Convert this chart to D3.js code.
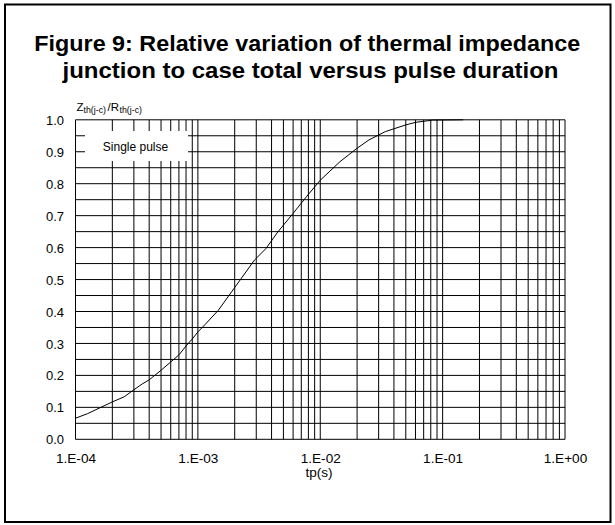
<!DOCTYPE html>
<html>
<head>
<meta charset="utf-8">
<script src="https://cdn.jsdelivr.net/npm/d3@7/dist/d3.min.js"></script>
<style>
  html, body { margin: 0; padding: 0; background: #fff; }
  svg { display: block; font-family: Arial, "Liberation Sans", Helvetica, sans-serif; }
</style>
</head>
<body>
<svg id="chart" width="615" height="525"></svg>
<script>
// ---- data ----
const titleLines = ["Figure 9: Relative variation of thermal impedance",
                    "junction to case total versus pulse duration"];
const pulseDuration = [1e-4, 1.25e-4, 2e-4, 2.5e-4, 3e-4, 3.5e-4, 4e-4, 5e-4, 6e-4, 7e-4, 8e-4, 9e-4,
                       1e-3, 1.15e-3, 1.47e-3, 2e-3, 2.9e-3, 3.6e-3, 4.5e-3, 6e-3, 7.7e-3,
                       1e-2, 1.45e-2, 2e-2, 2.5e-2, 3.4e-2, 5e-2, 6e-2, 8.3e-2, 1.47e-1];
const zthRatio = [0.066, 0.080, 0.117, 0.133, 0.155, 0.173, 0.186, 0.216, 0.242, 0.264, 0.292, 0.314,
                  0.336, 0.360, 0.404, 0.475, 0.561, 0.597, 0.649, 0.707, 0.759,
                  0.811, 0.869, 0.911, 0.937, 0.963, 0.984, 0.992, 0.999, 1.000];
const xTickValues = [1e-4, 1e-3, 1e-2, 1e-1, 1e0];
const xTickLabels = ["1.E-04", "1.E-03", "1.E-02", "1.E-01", "1.E+00"];
const yTickValues = [0, 0.1, 0.2, 0.3, 0.4, 0.5, 0.6, 0.7, 0.8, 0.9, 1.0];
const yTickLabels = ["0.0", "0.1", "0.2", "0.3", "0.4", "0.5", "0.6", "0.7", "0.8", "0.9", "1.0"];
const legendLabel = "Single pulse";
const xAxisTitle = "tp(s)";

// ---- layout ----
const svg = d3.select("#chart");
const x = d3.scaleLog().domain([1e-4, 1]).range([75.5, 565]);
const y = d3.scaleLinear().domain([0, 1]).range([439.3, 119.8]);

// outer frame
svg.append("rect").attr("x", 5).attr("y", 4.5).attr("width", 605.5).attr("height", 517.5)
  .attr("fill", "none").attr("stroke", "#000").attr("stroke-width", 2);

// title
const titleWidths = [546, 496];
const titleCenters = [307.3, 310.5];
svg.append("g").selectAll("text").data(titleLines).join("text")
  .attr("x", (d, i) => titleCenters[i]).attr("y", (d, i) => 51 + i * 27)
  .attr("text-anchor", "middle").attr("font-weight", "bold").attr("font-size", 22.5)
  .attr("textLength", (d, i) => titleWidths[i]).attr("lengthAdjust", "spacingAndGlyphs")
  .text(d => d);

// grid
const minorX = [];
for (let e = -4; e < 0; e++) for (let m = 1; m <= 9; m++) minorX.push(m * Math.pow(10, e));
minorX.push(1);
const minorY = d3.range(0, 21).map(i => i * 0.05);

const grid = svg.append("g").attr("stroke", "#000").attr("stroke-width", 1);
grid.selectAll("line.v").data(minorX).join("line").attr("class", "v")
  .attr("x1", d => x(d)).attr("x2", d => x(d)).attr("y1", y(0)).attr("y2", y(1));
grid.selectAll("line.h").data(minorY).join("line").attr("class", "h")
  .attr("x1", x(1e-4)).attr("x2", x(1)).attr("y1", d => y(d)).attr("y2", d => y(d));

// legend box (white, covering grid)
svg.append("rect").attr("x", 85).attr("y", 131).attr("width", 103).attr("height", 30).attr("fill", "#fff");
svg.append("text").attr("x", 135.5).attr("y", 150.5).attr("text-anchor", "middle")
  .attr("font-size", 12).text(legendLabel);

// curve
const line = d3.line().x(d => x(d[0])).y(d => y(d[1]));
svg.append("path").datum(pulseDuration.map((t, i) => [t, zthRatio[i]]))
  .attr("d", line).attr("fill", "none").attr("stroke", "#000").attr("stroke-width", 1);

// axes
const xAxis = d3.axisBottom(x).tickValues(xTickValues).tickSize(0).tickPadding(0)
  .tickFormat((d, i) => xTickLabels[i]);
const gx = svg.append("g").attr("transform", `translate(0,${y(0)})`).call(xAxis);
gx.select(".domain").remove();
gx.selectAll("text").attr("font-size", 13.6).attr("font-family", null).attr("fill", "#000")
  .attr("dy", null).attr("y", 23.5);

const yAxis = d3.axisLeft(y).tickValues(yTickValues).tickSize(0).tickPadding(0)
  .tickFormat((d, i) => yTickLabels[i]);
const gy = svg.append("g").attr("transform", `translate(64,0)`).call(yAxis);
gy.select(".domain").remove();
gy.selectAll("text").attr("font-size", 13).attr("font-family", null).attr("fill", "#000")
  .attr("dy", "0.35em");

// axis titles
svg.append("text").attr("x", 319).attr("y", 476.5).attr("text-anchor", "middle")
  .attr("font-size", 13.6).text(xAxisTitle);

const yt = svg.append("text").attr("x", 76.5).attr("y", 110.5).attr("font-size", 11.5);
yt.append("tspan").text("Z");
yt.append("tspan").attr("font-size", 8.8).attr("dy", 2.5).text("th(j-c)");
yt.append("tspan").attr("dy", -2.5).attr("dx", 1.5).text("/R");
yt.append("tspan").attr("font-size", 8.8).attr("dy", 2.5).attr("dx", 0.5).text("th(j-c)");
</script>
</body>
</html>
